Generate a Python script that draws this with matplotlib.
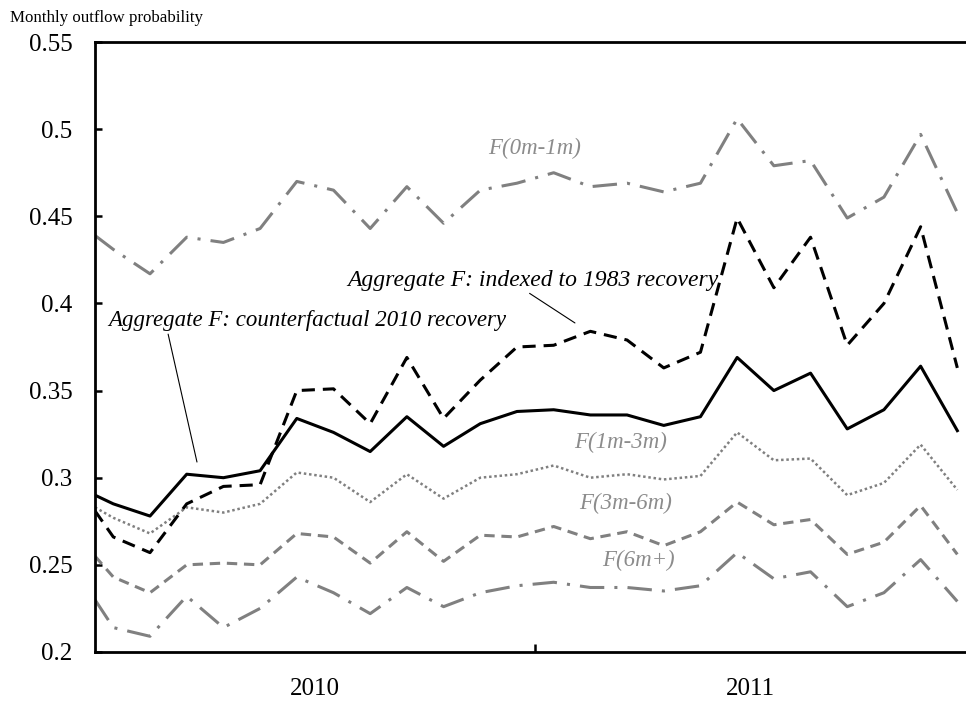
import matplotlib.pyplot as plt
from matplotlib.ticker import FixedLocator, NullFormatter

plt.rcParams["font.family"] = ["Liberation Serif", "DejaVu Serif"]

# x: left edge of the axis, then mid-month positions Jan 2010 .. Dec 2011
month_pos = [0] + [m + 0.5 for m in range(24)]

agg_2010 = [0.290, 0.285, 0.278, 0.302, 0.300, 0.304, 0.334, 0.326, 0.315, 0.335,
            0.318, 0.331, 0.338, 0.339, 0.336, 0.336, 0.330, 0.335, 0.369, 0.350,
            0.360, 0.328, 0.339, 0.364, 0.327]
agg_1983 = [0.281, 0.266, 0.257, 0.285, 0.295, 0.296, 0.350, 0.351, 0.331, 0.369,
            0.334, 0.356, 0.375, 0.376, 0.384, 0.379, 0.363, 0.372, 0.449, 0.409,
            0.438, 0.376, 0.400, 0.444, 0.363]
f_0_1 = [0.439, 0.431, 0.417, 0.438, 0.435, 0.443, 0.470, 0.465, 0.443, 0.467,
         0.446, 0.465, 0.469, 0.475, 0.467, 0.469, 0.464, 0.469, 0.506, 0.479,
         0.482, 0.449, 0.461, 0.497, 0.452]
f_1_3 = [0.283, 0.277, 0.268, 0.283, 0.280, 0.285, 0.303, 0.300, 0.286, 0.302,
         0.288, 0.300, 0.302, 0.307, 0.300, 0.302, 0.299, 0.301, 0.326, 0.310,
         0.311, 0.290, 0.297, 0.319, 0.293]
f_3_6 = [0.255, 0.243, 0.234, 0.250, 0.251, 0.250, 0.268, 0.266, 0.251, 0.269,
         0.252, 0.267, 0.266, 0.272, 0.265, 0.269, 0.261, 0.269, 0.286, 0.273,
         0.276, 0.256, 0.263, 0.284, 0.256]
f_6_plus = [0.230, 0.214, 0.209, 0.232, 0.214, 0.225, 0.243, 0.234, 0.222, 0.237,
            0.226, 0.234, 0.238, 0.240, 0.237, 0.237, 0.235, 0.238, 0.257, 0.242,
            0.246, 0.226, 0.234, 0.253, 0.229]

year_labels = ["2010", "2011"]
y_ticks = [0.2, 0.25, 0.3, 0.35, 0.4, 0.45, 0.5, 0.55]
y_tick_labels = ["0.2", "0.25", "0.3", "0.35", "0.4", "0.45", "0.5", "0.55"]

grey = "#808080"
grey_text = "#8c8c8c"

fig = plt.figure(figsize=(9.66, 7.04), dpi=100)
ax = fig.add_axes([0.0983, 0.0739, 0.9007, 0.8664])

lw = 2.2
dashdot = (0, (8, 3.3, 1, 3.3))
ax.plot(month_pos, f_0_1, color=grey, lw=lw, linestyle=dashdot, dash_capstyle="butt")
ax.plot(month_pos, f_6_plus, color=grey, lw=lw, linestyle=dashdot, dash_capstyle="butt")
ax.plot(month_pos, f_3_6, color=grey, lw=lw, linestyle=(0, (3.4, 2.2)), dash_capstyle="butt")
ax.plot(month_pos, f_1_3, color=grey, lw=1.8, linestyle=(0, (1, 1.1)), dash_capstyle="butt")
ax.plot(month_pos, agg_1983, color="black", lw=lw, linestyle=(0, (4.3, 2.6)), dash_capstyle="butt")
ax.plot(month_pos, agg_2010, color="black", lw=lw)

ax.set_xlim(0, 23.71)
ax.set_ylim(0.2, 0.55)

# axes frame
for side in ["left", "bottom", "top"]:
    ax.spines[side].set_linewidth(2)
ax.spines["right"].set_visible(False)

ax.set_yticks(y_ticks)
ax.set_yticklabels(y_tick_labels)
ax.tick_params(axis="y", direction="in", length=5, width=1.8, pad=16, labelsize=18)

ax.xaxis.set_major_locator(FixedLocator([12]))
ax.xaxis.set_major_formatter(NullFormatter())
ax.tick_params(axis="x", which="major", direction="in", length=5.5, width=1.8)
ax.xaxis.set_minor_locator(FixedLocator([6, 17.86]))
ax.set_xticklabels(year_labels, minor=True)
ax.tick_params(axis="x", which="minor", length=0, pad=19, labelsize=18)

# series labels
lbl = dict(fontsize=16.5, style="italic", ha="center", va="center")
ax.text(11.99, 0.489, "F(0m-1m)", color=grey_text, **lbl)
ax.text(14.33, 0.320, "F(1m-3m)", color=grey_text, **lbl)
ax.text(14.47, 0.2855, "F(3m-6m)", color=grey_text, **lbl)
ax.text(14.80, 0.2528, "F(6m+)", color=grey_text, **lbl)

ax.annotate("Aggregate F: indexed to 1983 recovery", xy=(13.08, 0.3888),
            xytext=(11.93, 0.4134), fontsize=17, style="italic",
            ha="center", va="center",
            arrowprops=dict(arrowstyle="-", lw=0.8, color="black",
                            shrinkA=0, shrinkB=0, relpos=(0.48, 0.0)))
ax.annotate("Aggregate F: counterfactual 2010 recovery", xy=(2.78, 0.309),
            xytext=(0.35, 0.390), fontsize=16.5, style="italic",
            ha="left", va="center",
            arrowprops=dict(arrowstyle="-", lw=0.8, color="black",
                            shrinkA=0, shrinkB=0, relpos=(0.15, 0.0)))

fig.text(0.0104, 0.974, "Monthly outflow probability", fontsize=12.2,
         ha="left", va="center")

fig.savefig("out.png", dpi=100)
